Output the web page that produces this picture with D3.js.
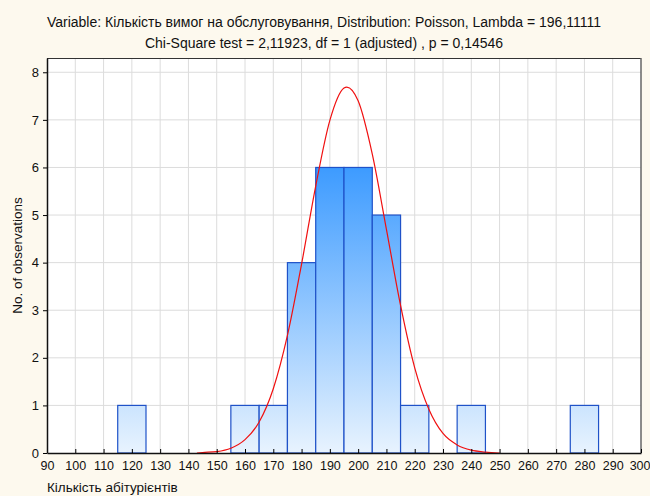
<!DOCTYPE html>
<html>
<head>
<meta charset="utf-8">
<script src="https://cdn.jsdelivr.net/npm/d3@7"></script>
<style>
  body { margin: 0; background: #fdf9ee; }
  text { font-family: "Liberation Sans", Arial, sans-serif; fill: #111; }
</style>
</head>
<body>
<div id="chart"></div>
<script>
// histogram bins (centres, width 10) and counts
const binCenters = [120, 160, 170, 180, 190, 200, 210, 220, 240, 280];
const binCounts  = [1, 1, 1, 4, 6, 6, 5, 1, 1, 1];
const binWidth = 10;

// fitted curve
const curveX = [143, 145, 150, 155, 160, 165, 170, 175, 180, 185, 190, 195, 196, 200, 205, 210, 215, 220, 225, 230, 235, 240, 245, 250];
const curveY = [0, 0.01, 0.03, 0.1, 0.28, 0.65, 1.35, 2.47, 3.97, 5.61, 6.99, 7.67, 7.69, 7.4, 6.28, 4.7, 3.1, 1.79, 0.92, 0.41, 0.17, 0.06, 0.02, 0];

const xTicks = d3.range(90, 301, 10);
const yTicks = [0, 1, 2, 3, 4, 5, 6, 7, 8];

const titleLines = [
  'Variable: Кількість вимог на обслуговування, Distribution: Poisson, Lambda = 196,11111',
  'Chi-Square test = 2,11923, df = 1 (adjusted) , p = 0,14546'
];

const width = 650, height = 496;
const margin = {top: 58, right: 9, bottom: 43, left: 47};
const w = width - margin.left - margin.right;
const h = height - margin.top - margin.bottom;

const svg = d3.select('#chart').append('svg')
  .attr('width', width).attr('height', height);

const defs = svg.append('defs');

const x = d3.scaleLinear().domain([90, 300]).range([0, w]);
const y = d3.scaleLinear().domain([0, 8.3]).range([h, 0]);

const grad = defs.append('linearGradient')
  .attr('id', 'barGrad')
  .attr('gradientUnits', 'userSpaceOnUse')
  .attr('x1', 0).attr('x2', 0)
  .attr('y1', y(6)).attr('y2', y(0));
grad.append('stop').attr('offset', 0).attr('stop-color', '#3d9bff');
grad.append('stop').attr('offset', 1).attr('stop-color', '#e8f3fe');

const chart = svg.append('g')
  .attr('transform', `translate(${margin.left},${margin.top})`);

chart.append('rect')
  .attr('width', w).attr('height', h)
  .attr('fill', '#fff');

// grid
chart.selectAll('.vgrid').data(xTicks.slice(1, -1)).enter()
  .append('line')
  .attr('x1', d => x(d)).attr('x2', d => x(d))
  .attr('y1', 0).attr('y2', h)
  .attr('stroke', '#dcdcdc').attr('stroke-width', 1);
chart.selectAll('.hgrid').data(yTicks.slice(1)).enter()
  .append('line')
  .attr('x1', 0).attr('x2', w)
  .attr('y1', d => y(d)).attr('y2', d => y(d))
  .attr('stroke', '#dcdcdc').attr('stroke-width', 1);

// bars
chart.selectAll('.bar')
  .data(binCenters.map((c, i) => ({c: c, n: binCounts[i]})))
  .enter()
  .append('rect')
  .attr('x', d => x(d.c - binWidth / 2))
  .attr('y', d => y(d.n))
  .attr('width', d => x(d.c + binWidth / 2) - x(d.c - binWidth / 2))
  .attr('height', d => y(0) - y(d.n))
  .attr('fill', 'url(#barGrad)')
  .attr('stroke', '#1f52c8')
  .attr('stroke-width', 1.2);

// fitted curve
const line = d3.line()
  .x(d => x(d[0]))
  .y(d => y(d[1]))
  .curve(d3.curveMonotoneX);
chart.append('path')
  .datum(curveX.map((v, i) => [v, curveY[i]]))
  .attr('d', line)
  .attr('fill', 'none')
  .attr('stroke', '#f01010')
  .attr('stroke-width', 1.2);

// frame
chart.append('line').attr('x1', 0).attr('x2', w).attr('y1', 0.5).attr('y2', 0.5)
  .attr('stroke', '#333');
chart.append('line').attr('x1', w).attr('x2', w).attr('y1', 0).attr('y2', h)
  .attr('stroke', '#666').attr('stroke-width', 1.5);

// axes
const xAxis = d3.axisBottom(x).tickValues(xTicks).tickSizeInner(-4).tickSizeOuter(0).tickPadding(8);
const gx = chart.append('g')
  .attr('transform', `translate(0,${h})`)
  .call(xAxis);
gx.select('.domain').attr('stroke', '#111').attr('stroke-width', 1.5);
gx.selectAll('text').style('font-size', '12.5px')
  .style('font-family', '"Liberation Sans", Arial, sans-serif');
// last label sits against the right edge, as in the original
gx.selectAll('.tick').filter(d => d === 300).select('text')
  .attr('text-anchor', 'end').attr('x', 9);

const yAxis = d3.axisLeft(y).tickValues(yTicks).tickSizeInner(4).tickSizeOuter(0).tickPadding(4);
const gy = chart.append('g').call(yAxis);
gy.select('.domain').attr('stroke', '#111').attr('stroke-width', 1.5);
gy.selectAll('text').style('font-size', '13px')
  .style('font-family', '"Liberation Sans", Arial, sans-serif');

// titles
svg.selectAll('.title').data(titleLines).enter()
  .append('text')
  .attr('x', 324)
  .attr('y', (d, i) => 27 + i * 21)
  .attr('text-anchor', 'middle')
  .style('font-size', '14px')
  .text(d => d);

svg.append('text')
  .attr('transform', `translate(22, ${margin.top + h / 2}) rotate(-90)`)
  .attr('text-anchor', 'middle')
  .style('font-size', '13.5px')
  .text('No. of observations');

svg.append('text')
  .attr('x', margin.left)
  .attr('y', 492)
  .style('font-size', '13.5px')
  .text('Кількість абітурієнтів');
</script>
</body>
</html>
